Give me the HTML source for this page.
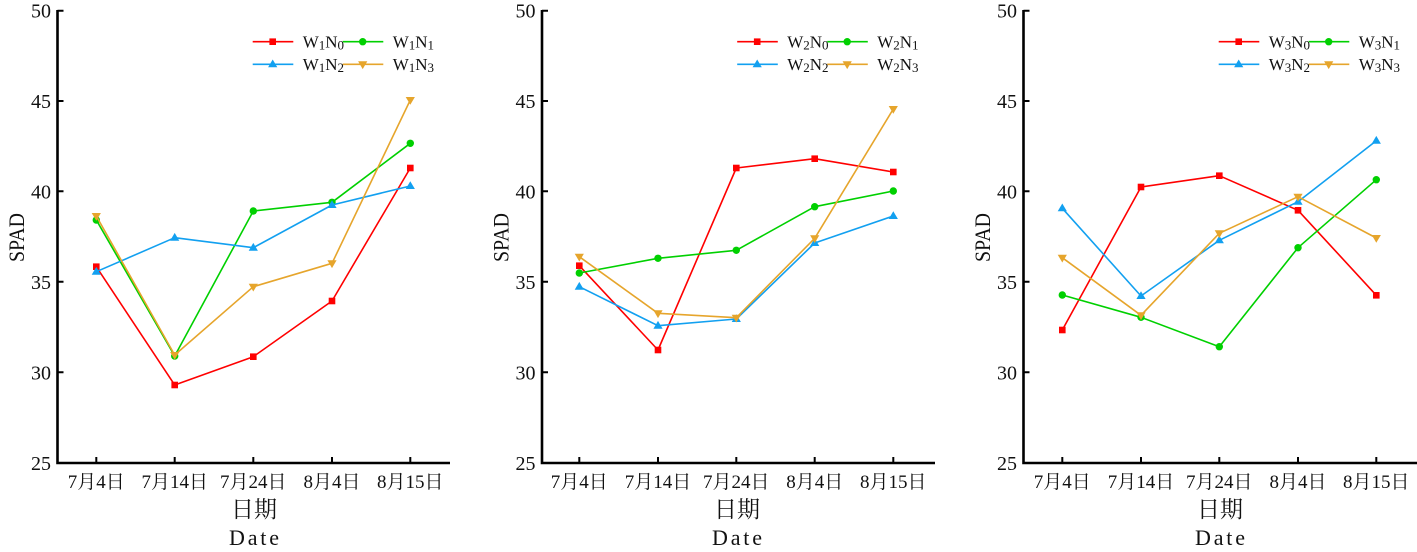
<!DOCTYPE html>
<html><head><meta charset="utf-8"><style>
html,body{margin:0;padding:0;background:#fff;}
svg{display:block;}
text{font-family:"Liberation Serif","Noto Serif CJK SC",serif;fill:#111;}
.tk{font-size:20px;}
.tx{font-size:19px;}
.lg{font-size:17px;}
.cn{font-size:23px;}
.en{font-size:22px;}
.ax{fill:none;stroke:#000;stroke-width:2.6;}
.t{stroke:#000;stroke-width:2;}
.s{fill:none;stroke-width:1.6;stroke-linejoin:round;}
</style></head><body>
<svg width="1417" height="552" viewBox="0 0 1417 552" xmlns="http://www.w3.org/2000/svg">
<defs>
<marker id="mR" viewBox="-5 -5 10 10" markerWidth="10" markerHeight="10" refX="0" refY="0" markerUnits="userSpaceOnUse"><rect x="-3.3" y="-3.3" width="6.6" height="6.6" fill="#ff0000"/></marker>
<marker id="mG" viewBox="-5 -5 10 10" markerWidth="10" markerHeight="10" refX="0" refY="0" markerUnits="userSpaceOnUse"><circle r="3.7" fill="#00d000"/></marker>
<marker id="mB" viewBox="-6 -6 12 12" markerWidth="12" markerHeight="12" refX="0" refY="0" markerUnits="userSpaceOnUse"><polygon points="0,-4.8 -4.6,3 4.6,3" fill="#12a0f0"/></marker>
<marker id="mY" viewBox="-6 -6 12 12" markerWidth="12" markerHeight="12" refX="0" refY="0" markerUnits="userSpaceOnUse"><polygon points="0,4.8 -4.6,-3 4.6,-3" fill="#e6a52c"/></marker>
</defs>

<!-- ===== Panel 1 ===== -->
<g>
<path class="ax" d="M57.5,10 V463 H450"/>
<path class="t" d="M57.5,10.7 h6 M57.5,101 h6 M57.5,191.3 h6 M57.5,281.7 h6 M57.5,372.3 h6 M96.3,463 v-6 M174.7,463 v-6 M253.3,463 v-6 M332,463 v-6 M410.3,463 v-6"/>
<text class="tk" x="51" y="17.5" text-anchor="end">50</text>
<text class="tk" x="51" y="108" text-anchor="end">45</text>
<text class="tk" x="51" y="198.5" text-anchor="end">40</text>
<text class="tk" x="51" y="289" text-anchor="end">35</text>
<text class="tk" x="51" y="379.5" text-anchor="end">30</text>
<text class="tk" x="51" y="470" text-anchor="end">25</text>
<text class="tx" x="96.3" y="488" text-anchor="middle">7月4日</text>
<text class="tx" x="174.7" y="488" text-anchor="middle">7月14日</text>
<text class="tx" x="253.3" y="488" text-anchor="middle">7月24日</text>
<text class="tx" x="332" y="488" text-anchor="middle">8月4日</text>
<text class="tx" x="410.3" y="488" text-anchor="middle">8月15日</text>
<text class="cn" x="254" y="517" text-anchor="middle">日期</text>
<text class="en" x="254" y="545" text-anchor="middle" textLength="50" lengthAdjust="spacing">Date</text>
<text x="24" y="237.5" font-size="22" text-anchor="middle" textLength="49" lengthAdjust="spacingAndGlyphs" transform="rotate(-90 24 237.5)">SPAD</text>
<polyline class="s" stroke="#ff0000" marker-start="url(#mR)" marker-mid="url(#mR)" marker-end="url(#mR)" points="96.3,266.7 174.7,385 253.3,356.7 332,301 410.3,168"/>
<polyline class="s" stroke="#00d000" marker-start="url(#mG)" marker-mid="url(#mG)" marker-end="url(#mG)" points="96.3,220 174.7,356 253.3,211 332,202.3 410.3,143.3"/>
<polyline class="s" stroke="#12a0f0" marker-start="url(#mB)" marker-mid="url(#mB)" marker-end="url(#mB)" points="96.3,271.7 174.7,237.7 253.3,247.7 332,205 410.3,186"/>
<polyline class="s" stroke="#e6a52c" marker-start="url(#mY)" marker-mid="url(#mY)" marker-end="url(#mY)" points="96.3,216 174.7,355 253.3,286.7 332,263.3 410.3,100"/>
<polyline class="s" stroke="#ff0000" marker-mid="url(#mR)" points="252.7,41.7 272.7,41.7 293.3,41.7"/>
<polyline class="s" stroke="#00d000" marker-mid="url(#mG)" points="342.7,41.7 362.7,41.7 383.3,41.7"/>
<polyline class="s" stroke="#12a0f0" marker-mid="url(#mB)" points="252.7,64.3 272.7,64.3 293.3,64.3"/>
<polyline class="s" stroke="#e6a52c" marker-mid="url(#mY)" points="342.7,64.3 362.7,64.3 383.3,64.3"/>
<text class="lg" x="302.7" y="47.5">W<tspan font-size="13" dy="2">1</tspan><tspan dy="-2">N</tspan><tspan font-size="13" dy="2">0</tspan></text>
<text class="lg" x="392.7" y="47.5">W<tspan font-size="13" dy="2">1</tspan><tspan dy="-2">N</tspan><tspan font-size="13" dy="2">1</tspan></text>
<text class="lg" x="302.7" y="70">W<tspan font-size="13" dy="2">1</tspan><tspan dy="-2">N</tspan><tspan font-size="13" dy="2">2</tspan></text>
<text class="lg" x="392.7" y="70">W<tspan font-size="13" dy="2">1</tspan><tspan dy="-2">N</tspan><tspan font-size="13" dy="2">3</tspan></text>
</g>

<!-- ===== Panel 2 ===== -->
<g>
<path class="ax" d="M542,10 V463 H935"/>
<path class="t" d="M542,10.7 h6 M542,101 h6 M542,191.3 h6 M542,281.7 h6 M542,372.3 h6 M579.3,463 v-6 M658,463 v-6 M736.3,463 v-6 M814.7,463 v-6 M893.3,463 v-6"/>
<text class="tk" x="535.5" y="17.5" text-anchor="end">50</text>
<text class="tk" x="535.5" y="108" text-anchor="end">45</text>
<text class="tk" x="535.5" y="198.5" text-anchor="end">40</text>
<text class="tk" x="535.5" y="289" text-anchor="end">35</text>
<text class="tk" x="535.5" y="379.5" text-anchor="end">30</text>
<text class="tk" x="535.5" y="470" text-anchor="end">25</text>
<text class="tx" x="579.3" y="488" text-anchor="middle">7月4日</text>
<text class="tx" x="658" y="488" text-anchor="middle">7月14日</text>
<text class="tx" x="736.3" y="488" text-anchor="middle">7月24日</text>
<text class="tx" x="814.7" y="488" text-anchor="middle">8月4日</text>
<text class="tx" x="893.3" y="488" text-anchor="middle">8月15日</text>
<text class="cn" x="737" y="517" text-anchor="middle">日期</text>
<text class="en" x="737" y="545" text-anchor="middle" textLength="50" lengthAdjust="spacing">Date</text>
<text x="508.5" y="237.5" font-size="22" text-anchor="middle" textLength="49" lengthAdjust="spacingAndGlyphs" transform="rotate(-90 508.5 237.5)">SPAD</text>
<polyline class="s" stroke="#ff0000" marker-start="url(#mR)" marker-mid="url(#mR)" marker-end="url(#mR)" points="579.3,265.7 658,350 736.3,168 814.7,158.7 893.3,172"/>
<polyline class="s" stroke="#00d000" marker-start="url(#mG)" marker-mid="url(#mG)" marker-end="url(#mG)" points="579.3,273 658,258.3 736.3,250.3 814.7,206.7 893.3,191"/>
<polyline class="s" stroke="#12a0f0" marker-start="url(#mB)" marker-mid="url(#mB)" marker-end="url(#mB)" points="579.3,286.7 658,325.7 736.3,319 814.7,243 893.3,216"/>
<polyline class="s" stroke="#e6a52c" marker-start="url(#mY)" marker-mid="url(#mY)" marker-end="url(#mY)" points="579.3,256.7 658,313.3 736.3,317.7 814.7,238.3 893.3,109"/>
<polyline class="s" stroke="#ff0000" marker-mid="url(#mR)" points="737.2,41.7 757.2,41.7 777.8,41.7"/>
<polyline class="s" stroke="#00d000" marker-mid="url(#mG)" points="827.2,41.7 847.2,41.7 867.8,41.7"/>
<polyline class="s" stroke="#12a0f0" marker-mid="url(#mB)" points="737.2,64.3 757.2,64.3 777.8,64.3"/>
<polyline class="s" stroke="#e6a52c" marker-mid="url(#mY)" points="827.2,64.3 847.2,64.3 867.8,64.3"/>
<text class="lg" x="787.2" y="47.5">W<tspan font-size="13" dy="2">2</tspan><tspan dy="-2">N</tspan><tspan font-size="13" dy="2">0</tspan></text>
<text class="lg" x="877.2" y="47.5">W<tspan font-size="13" dy="2">2</tspan><tspan dy="-2">N</tspan><tspan font-size="13" dy="2">1</tspan></text>
<text class="lg" x="787.2" y="70">W<tspan font-size="13" dy="2">2</tspan><tspan dy="-2">N</tspan><tspan font-size="13" dy="2">2</tspan></text>
<text class="lg" x="877.2" y="70">W<tspan font-size="13" dy="2">2</tspan><tspan dy="-2">N</tspan><tspan font-size="13" dy="2">3</tspan></text>
</g>

<!-- ===== Panel 3 ===== -->
<g>
<path class="ax" d="M1023.5,10 V463 H1417"/>
<path class="t" d="M1023.5,10.7 h6 M1023.5,101 h6 M1023.5,191.3 h6 M1023.5,281.7 h6 M1023.5,372.3 h6 M1062.3,463 v-6 M1141,463 v-6 M1219.3,463 v-6 M1298,463 v-6 M1376.3,463 v-6"/>
<text class="tk" x="1017" y="17.5" text-anchor="end">50</text>
<text class="tk" x="1017" y="108" text-anchor="end">45</text>
<text class="tk" x="1017" y="198.5" text-anchor="end">40</text>
<text class="tk" x="1017" y="289" text-anchor="end">35</text>
<text class="tk" x="1017" y="379.5" text-anchor="end">30</text>
<text class="tk" x="1017" y="470" text-anchor="end">25</text>
<text class="tx" x="1062.3" y="488" text-anchor="middle">7月4日</text>
<text class="tx" x="1141" y="488" text-anchor="middle">7月14日</text>
<text class="tx" x="1219.3" y="488" text-anchor="middle">7月24日</text>
<text class="tx" x="1298" y="488" text-anchor="middle">8月4日</text>
<text class="tx" x="1376.3" y="488" text-anchor="middle">8月15日</text>
<text class="cn" x="1220" y="517" text-anchor="middle">日期</text>
<text class="en" x="1220" y="545" text-anchor="middle" textLength="50" lengthAdjust="spacing">Date</text>
<text x="990" y="237.5" font-size="22" text-anchor="middle" textLength="49" lengthAdjust="spacingAndGlyphs" transform="rotate(-90 990 237.5)">SPAD</text>
<polyline class="s" stroke="#ff0000" marker-start="url(#mR)" marker-mid="url(#mR)" marker-end="url(#mR)" points="1062.3,330 1141,187 1219.3,175.7 1298,210.3 1376.3,295.3"/>
<polyline class="s" stroke="#00d000" marker-start="url(#mG)" marker-mid="url(#mG)" marker-end="url(#mG)" points="1062.3,295 1141,317.3 1219.3,346.7 1298,247.7 1376.3,179.7"/>
<polyline class="s" stroke="#12a0f0" marker-start="url(#mB)" marker-mid="url(#mB)" marker-end="url(#mB)" points="1062.3,208.3 1141,296 1219.3,240.3 1298,201.7 1376.3,140.7"/>
<polyline class="s" stroke="#e6a52c" marker-start="url(#mY)" marker-mid="url(#mY)" marker-end="url(#mY)" points="1062.3,257.7 1141,315.3 1219.3,233.3 1298,196.7 1376.3,238"/>
<polyline class="s" stroke="#ff0000" marker-mid="url(#mR)" points="1218.7,41.7 1238.7,41.7 1259.3,41.7"/>
<polyline class="s" stroke="#00d000" marker-mid="url(#mG)" points="1308.7,41.7 1328.7,41.7 1349.3,41.7"/>
<polyline class="s" stroke="#12a0f0" marker-mid="url(#mB)" points="1218.7,64.3 1238.7,64.3 1259.3,64.3"/>
<polyline class="s" stroke="#e6a52c" marker-mid="url(#mY)" points="1308.7,64.3 1328.7,64.3 1349.3,64.3"/>
<text class="lg" x="1268.7" y="47.5">W<tspan font-size="13" dy="2">3</tspan><tspan dy="-2">N</tspan><tspan font-size="13" dy="2">0</tspan></text>
<text class="lg" x="1358.7" y="47.5">W<tspan font-size="13" dy="2">3</tspan><tspan dy="-2">N</tspan><tspan font-size="13" dy="2">1</tspan></text>
<text class="lg" x="1268.7" y="70">W<tspan font-size="13" dy="2">3</tspan><tspan dy="-2">N</tspan><tspan font-size="13" dy="2">2</tspan></text>
<text class="lg" x="1358.7" y="70">W<tspan font-size="13" dy="2">3</tspan><tspan dy="-2">N</tspan><tspan font-size="13" dy="2">3</tspan></text>
</g>
</svg>
</body></html>
